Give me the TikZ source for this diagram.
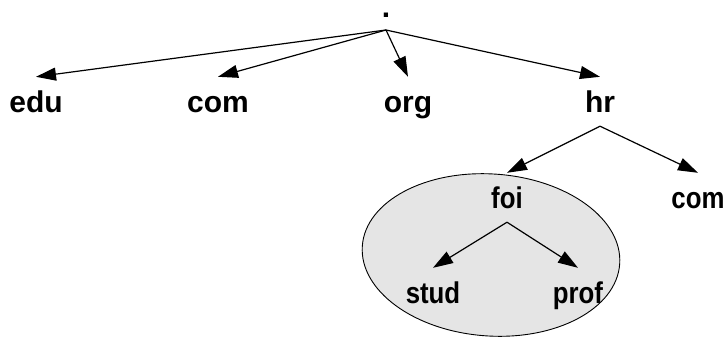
\documentclass[tikz,border=0pt]{standalone}
\usepackage{fontspec}
\setmainfont{Liberation Sans}
\newfontfamily\narrowfont[FakeStretch=0.86]{Liberation Sans}
\usetikzlibrary{arrows.meta,shapes.geometric}
\tikzset{
  label/.style={font=\fontsize{30}{32}\selectfont\bfseries, anchor=base,
    text height=27pt, text depth=6pt, inner ysep=8pt, inner xsep=0pt},
  sublabel/.style={label, font=\narrowfont\fontsize{30}{32}\selectfont\bfseries},
  link/.style={line width=1.2pt, -{Triangle[length=20pt,width=13pt]}},
  zone/.style={ellipse, draw, line width=0.9pt, fill=black!10,
    minimum width=258pt, minimum height=162pt, inner sep=0pt}
}
\begin{document}
\begin{tikzpicture}[x=1pt,y=-1pt]
  \useasboundingbox (0,0) rectangle (726,337);
  % shaded domain around foi
  \node[zone, rotate=-4] (foizone) at (491,255) {};
  % root of the tree
  \node[font=\fontsize{30}{32}\selectfont\bfseries, anchor=base, inner sep=0pt,
        text height=5pt, text depth=0pt] (root) at (386,18) {.};
  \coordinate (fork) at (386,30);
  % top-level domains
  \node[label] (edu) at (36,112) {edu};
  \node[label] (com) at (218,112) {com};
  \node[label] (org) at (408,112) {org};
  \node[label] (hr)  at (600,112) {hr};
  % second level under hr
  \node[sublabel] (foi)  at (507,208) {foi};
  \node[sublabel] (hrcom) at (698,208) {com};
  % third level under foi
  \node[sublabel] (stud) at (433,303) {stud};
  \node[sublabel] (prof) at (578,303) {prof};
  % connectors
  \draw[link] (fork) -- (edu.north);
  \draw[link] (fork) -- (com.north);
  \draw[link] (fork) -- (org.north);
  \draw[link] (fork) -- (hr.north);
  \draw[link] (hr.south) -- (foi.north);
  \draw[link] (hr.south) -- (hrcom.north);
  \draw[link] (foi.south) -- (stud.north);
  \draw[link] (foi.south) -- (prof.north);
\end{tikzpicture}
\end{document}
